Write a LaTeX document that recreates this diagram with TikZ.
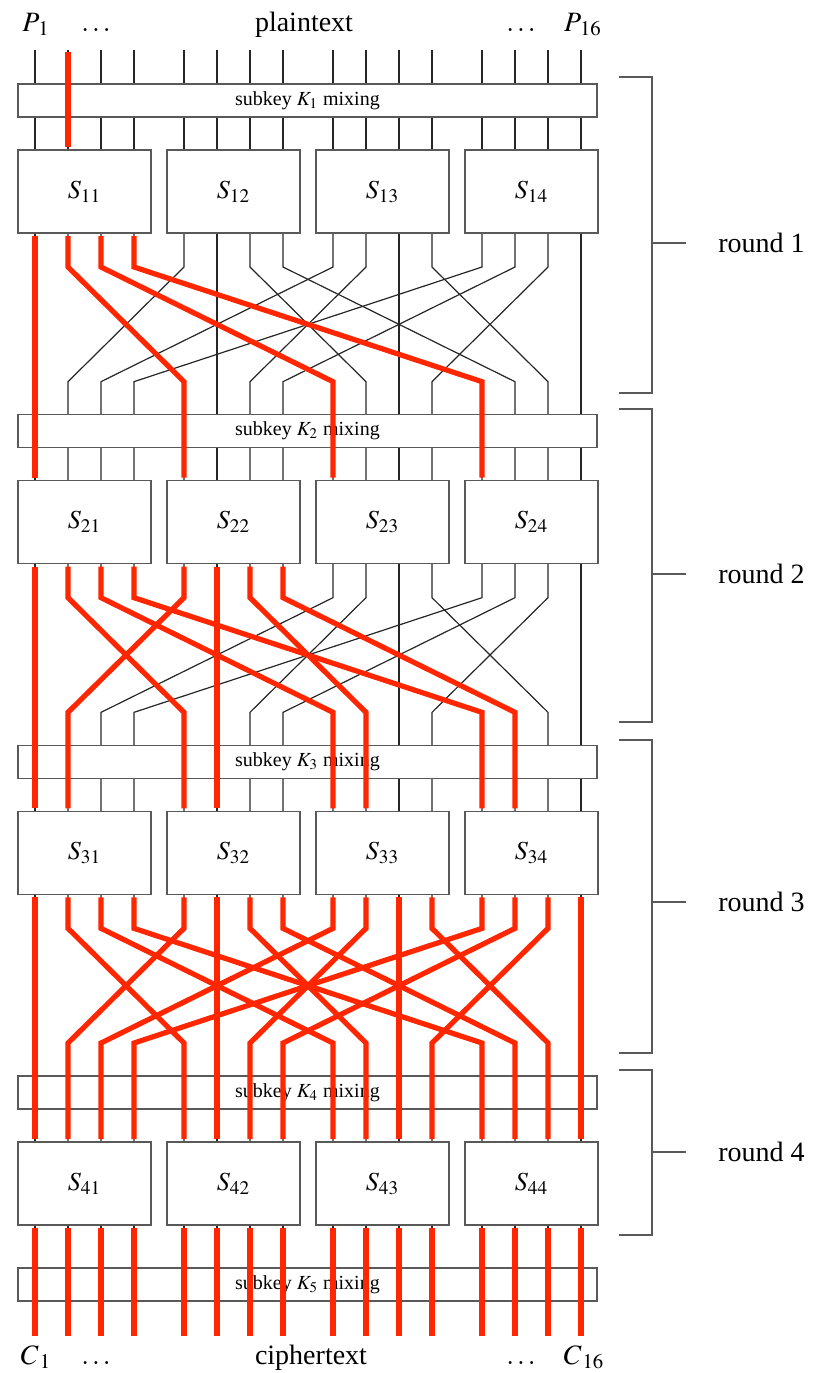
\documentclass[tikz,border=0pt]{standalone}
\usepackage{mathptmx}
\usepackage{fontspec}
\setmainfont{Liberation Serif}
\usepackage{xcolor}
\usepackage{tikz}
\usetikzlibrary{calc, positioning}

\definecolor{trailred}{RGB}{255,38,0}

\begin{document}
\begin{tikzpicture}[
    x=0.5pt, y=-0.5pt,
    wire/.style={draw=black!85, line width=0.6pt},
    trail/.style={draw=trailred, line width=2.6pt, shorten <=1.5pt, shorten >=1.5pt},
    keybox/.style={rectangle, draw=black!65, fill=white, line width=0.8pt, minimum width=289.5pt, minimum height=16.5pt, inner sep=0pt, font=\fontsize{10}{12}\selectfont},
    sbox/.style={rectangle, draw=black!65, fill=white, line width=0.8pt, minimum width=66.5pt, minimum height=41.5pt, inner sep=0pt, font=\fontsize{13}{15}\selectfont},
    brace/.style={draw=black!65, line width=0.8pt},
    lbl/.style={anchor=base, inner sep=0pt, font=\fontsize{14}{16}\selectfont},
    roundlbl/.style={anchor=west, inner sep=0pt, font=\fontsize{14}{16}\selectfont}
]
\useasboundingbox (0,0) rectangle (819,1373);

% Ports of the S-boxes
\foreach \rnd in {1,...,4} {
  \pgfmathsetmacro{\yk}{84+330.67*(\rnd-1)}
  \foreach \grp in {1,...,4} {
    \foreach \bit in {1,...,4} {
      \coordinate (in\rnd\grp\bit) at ({35+149*(\grp-1)+33*(\bit-1)}, {\yk+66});
      \coordinate (out\rnd\grp\bit) at ({35+149*(\grp-1)+33*(\bit-1)}, {\yk+149});
    }
  }
}

% Thin wires
\foreach \grp in {1,...,4} {
  \foreach \bit in {1,...,4} {
    \draw[wire] (in1\grp\bit) -- ++(0,-100);
    \draw[wire] (out4\grp\bit) -- ++(0,111);
  }
}
\foreach \rnd [evaluate=\rnd as \nxt using int(\rnd+1)] in {1,2,3} {
  \foreach \grp in {1,...,4} {
    \foreach \bit in {1,...,4} {
      \draw[wire] (out\rnd\grp\bit) -- ++(0,34) -- ($(in\nxt\bit\grp)+(0,-99)$) -- (in\nxt\bit\grp);
    }
  }
}

% Subkey mixing and S-boxes
\foreach \rnd in {1,...,4} {
  \pgfmathsetmacro{\yk}{84+330.67*(\rnd-1)}
  \node[keybox] (K\rnd) at (307.5, {\yk+16.5}) {subkey $K_{\rnd}$ mixing};
  \foreach \grp in {1,...,4} {
    \node[sbox] (S\rnd\grp) at ({84.5+149*(\grp-1)}, {\yk+107.5}) {$S_{\rnd\grp}$};
  }
}
\node[keybox] (K5) at (307.5,1284.5) {subkey $K_5$ mixing};

% Active trail
\draw[trail] (in112) -- ++(0,-101);
\foreach \bit in {1,...,4} {
  \draw[trail] (out11\bit) -- ++(0,34) -- ($(in2\bit1)+(0,-99)$) -- (in2\bit1);
}
\foreach \grp in {1,2} {
  \foreach \bit in {1,...,4} {
    \draw[trail] (out2\grp\bit) -- ++(0,34) -- ($(in3\bit\grp)+(0,-99)$) -- (in3\bit\grp);
  }
}
\foreach \grp in {1,...,4} {
  \foreach \bit in {1,...,4} {
    \draw[trail] (out3\grp\bit) -- ++(0,34) -- ($(in4\bit\grp)+(0,-99)$) -- (in4\bit\grp);
    \draw[trail] (out4\grp\bit) -- ++(0,114);
  }
}

% Plaintext and ciphertext
\node[lbl] (p1) at (36,31) {$P_{\,1}$};
\node[lbl] (pdotsl) at (96,31) {$\ldots$};
\node[lbl] (ptxt) at (304,31) {plaintext};
\node[lbl] (pdotsr) at (521,31) {$\ldots$};
\node[lbl] (p16) at (583,31) {$P_{\,16}$};
\node[lbl] (c1) at (36,1364) {$C_{\,1}$};
\node[lbl] (cdotsl) at (96,1364) {$\ldots$};
\node[lbl] (ctxt) at (311,1364) {ciphertext};
\node[lbl] (cdotsr) at (521,1364) {$\ldots$};
\node[lbl] (c16) at (584,1364) {$C_{\,16}$};

% Rounds
\foreach \rnd/\ya/\yb/\yt in {1/77/393/243, 2/409/722/574, 3/740/1053/902, 4/1070/1235/1152} {
  \draw[brace] (619,\ya) -- (652,\ya) -- (652,\yb) -- (619,\yb);
  \draw[brace] (652,\yt) -- (686,\yt);
  \node[roundlbl] (round\rnd) at (718,\yt) {round \rnd};
}

\end{tikzpicture}
\end{document}
